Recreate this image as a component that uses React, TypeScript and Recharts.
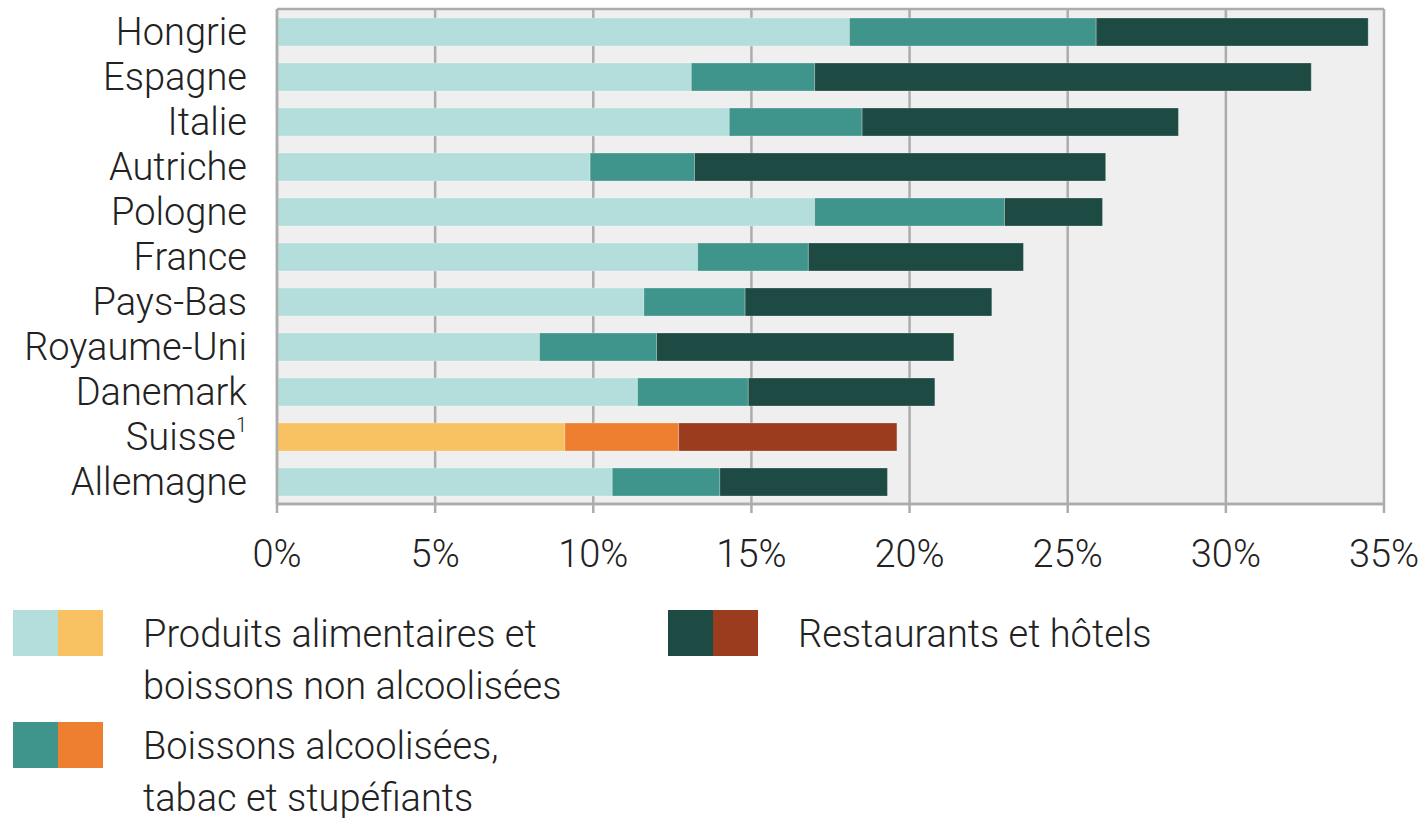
import { BarChart, Bar, XAxis, YAxis, CartesianGrid, Cell } from "recharts";

const countries = [
  "Hongrie",
  "Espagne",
  "Italie",
  "Autriche",
  "Pologne",
  "France",
  "Pays-Bas",
  "Royaume-Uni",
  "Danemark",
  "Suisse",
  "Allemagne",
];
const food = [18.1, 13.1, 14.3, 9.9, 17.0, 13.3, 11.6, 8.3, 11.4, 9.1, 10.6];
const alcohol = [7.8, 3.9, 4.2, 3.3, 6.0, 3.5, 3.2, 3.7, 3.5, 3.6, 3.4];
const restaurants = [8.6, 15.7, 10.0, 13.0, 3.1, 6.8, 7.8, 9.4, 5.9, 6.9, 5.3];
const xTicks = [0, 5, 10, 15, 20, 25, 30, 35];
const highlight = "Suisse";

const data = countries.map((name, i) => ({
  name,
  food: food[i],
  alcohol: alcohol[i],
  restaurants: restaurants[i],
}));

const colors = {
  food: ["#b3dedb", "#f8c262"],
  alcohol: ["#3f958c", "#ee7f31"],
  restaurants: ["#1d4a43", "#9c3c1e"],
};

const FONT = "Roboto, 'Noto Sans', sans-serif";
const FS = 38;
const FW = 300;
const GRID = "#acacac";

function CountryTick(props: any) {
  const { x, y, payload } = props;
  return (
    <text
      x={x}
      y={y}
      dy="0.36em"
      textAnchor="end"
      fontFamily={FONT}
      fontSize={FS}
      fontWeight={FW}
      fill="#222"
    >
      {payload.value}
      {payload.value === highlight ? (
        <tspan fontSize={20} dy="-0.9em">
          1
        </tspan>
      ) : null}
    </text>
  );
}

function LegendItem(props: {
  left: number;
  top: number;
  swatch: string[];
  lines: string[];
}) {
  const { left, top, swatch, lines } = props;
  return (
    <div style={{ position: "absolute", left, top }}>
      <div style={{ position: "absolute", left: 0, top: 2, display: "flex" }}>
        <div style={{ width: 45, height: 46, background: swatch[0] }} />
        <div style={{ width: 45, height: 46, background: swatch[1] }} />
      </div>
      <div
        style={{
          position: "absolute",
          left: 130,
          top: 0,
          fontFamily: FONT,
          fontSize: FS,
          fontWeight: FW,
          lineHeight: "52px",
          color: "#222",
          whiteSpace: "nowrap",
        }}
      >
        {lines.map((l) => (
          <div key={l}>{l}</div>
        ))}
      </div>
    </div>
  );
}

export default function App() {
  return (
    <div
      style={{
        position: "absolute",
        left: 0,
        top: 0,
        width: 1426,
        height: 818,
        background: "#fff",
      }}
    >
      <BarChart
        width={1426}
        height={600}
        data={data}
        layout="vertical"
        margin={{ top: 9, right: 42, left: 0, bottom: 40 }}
        barSize={28}
      >
        <CartesianGrid
          fill="#efefef"
          stroke={GRID}
          strokeWidth={2.5}
          horizontalCoordinatesGenerator={({ offset }: any) => [
            offset.top,
            offset.top + offset.height,
          ]}
        />
        <XAxis
          type="number"
          domain={[0, 35]}
          ticks={xTicks}
          interval={0}
          tickFormatter={(v: number) => `${v}%`}
          height={56}
          tickSize={9}
          tickMargin={27}
          axisLine={{ stroke: GRID, strokeWidth: 2.5 }}
          tickLine={{ stroke: GRID, strokeWidth: 2.5 }}
          tick={{ fontFamily: FONT, fontSize: FS, fontWeight: FW, fill: "#222" }}
        />
        <YAxis
          type="category"
          dataKey="name"
          width={277}
          interval={0}
          tickSize={0}
          tickMargin={30}
          axisLine={{ stroke: GRID, strokeWidth: 2.5 }}
          tickLine={false}
          tick={<CountryTick />}
        />
        {(["food", "alcohol", "restaurants"] as const).map((key) => (
          <Bar
            key={key}
            dataKey={key}
            stackId="a"
            isAnimationActive={false}
            stroke="rgba(255,255,255,0.25)"
            strokeWidth={1}
          >
            {data.map((d) => (
              <Cell
                key={d.name}
                fill={colors[key][d.name === highlight ? 1 : 0]}
              />
            ))}
          </Bar>
        ))}
      </BarChart>
      <LegendItem
        left={13}
        top={608}
        swatch={colors.food}
        lines={["Produits alimentaires et", "boissons non alcoolisées"]}
      />
      <LegendItem
        left={13}
        top={720}
        swatch={colors.alcohol}
        lines={["Boissons alcoolisées,", "tabac et stupéfiants"]}
      />
      <LegendItem
        left={668}
        top={608}
        swatch={colors.restaurants}
        lines={["Restaurants et hôtels"]}
      />
    </div>
  );
}
